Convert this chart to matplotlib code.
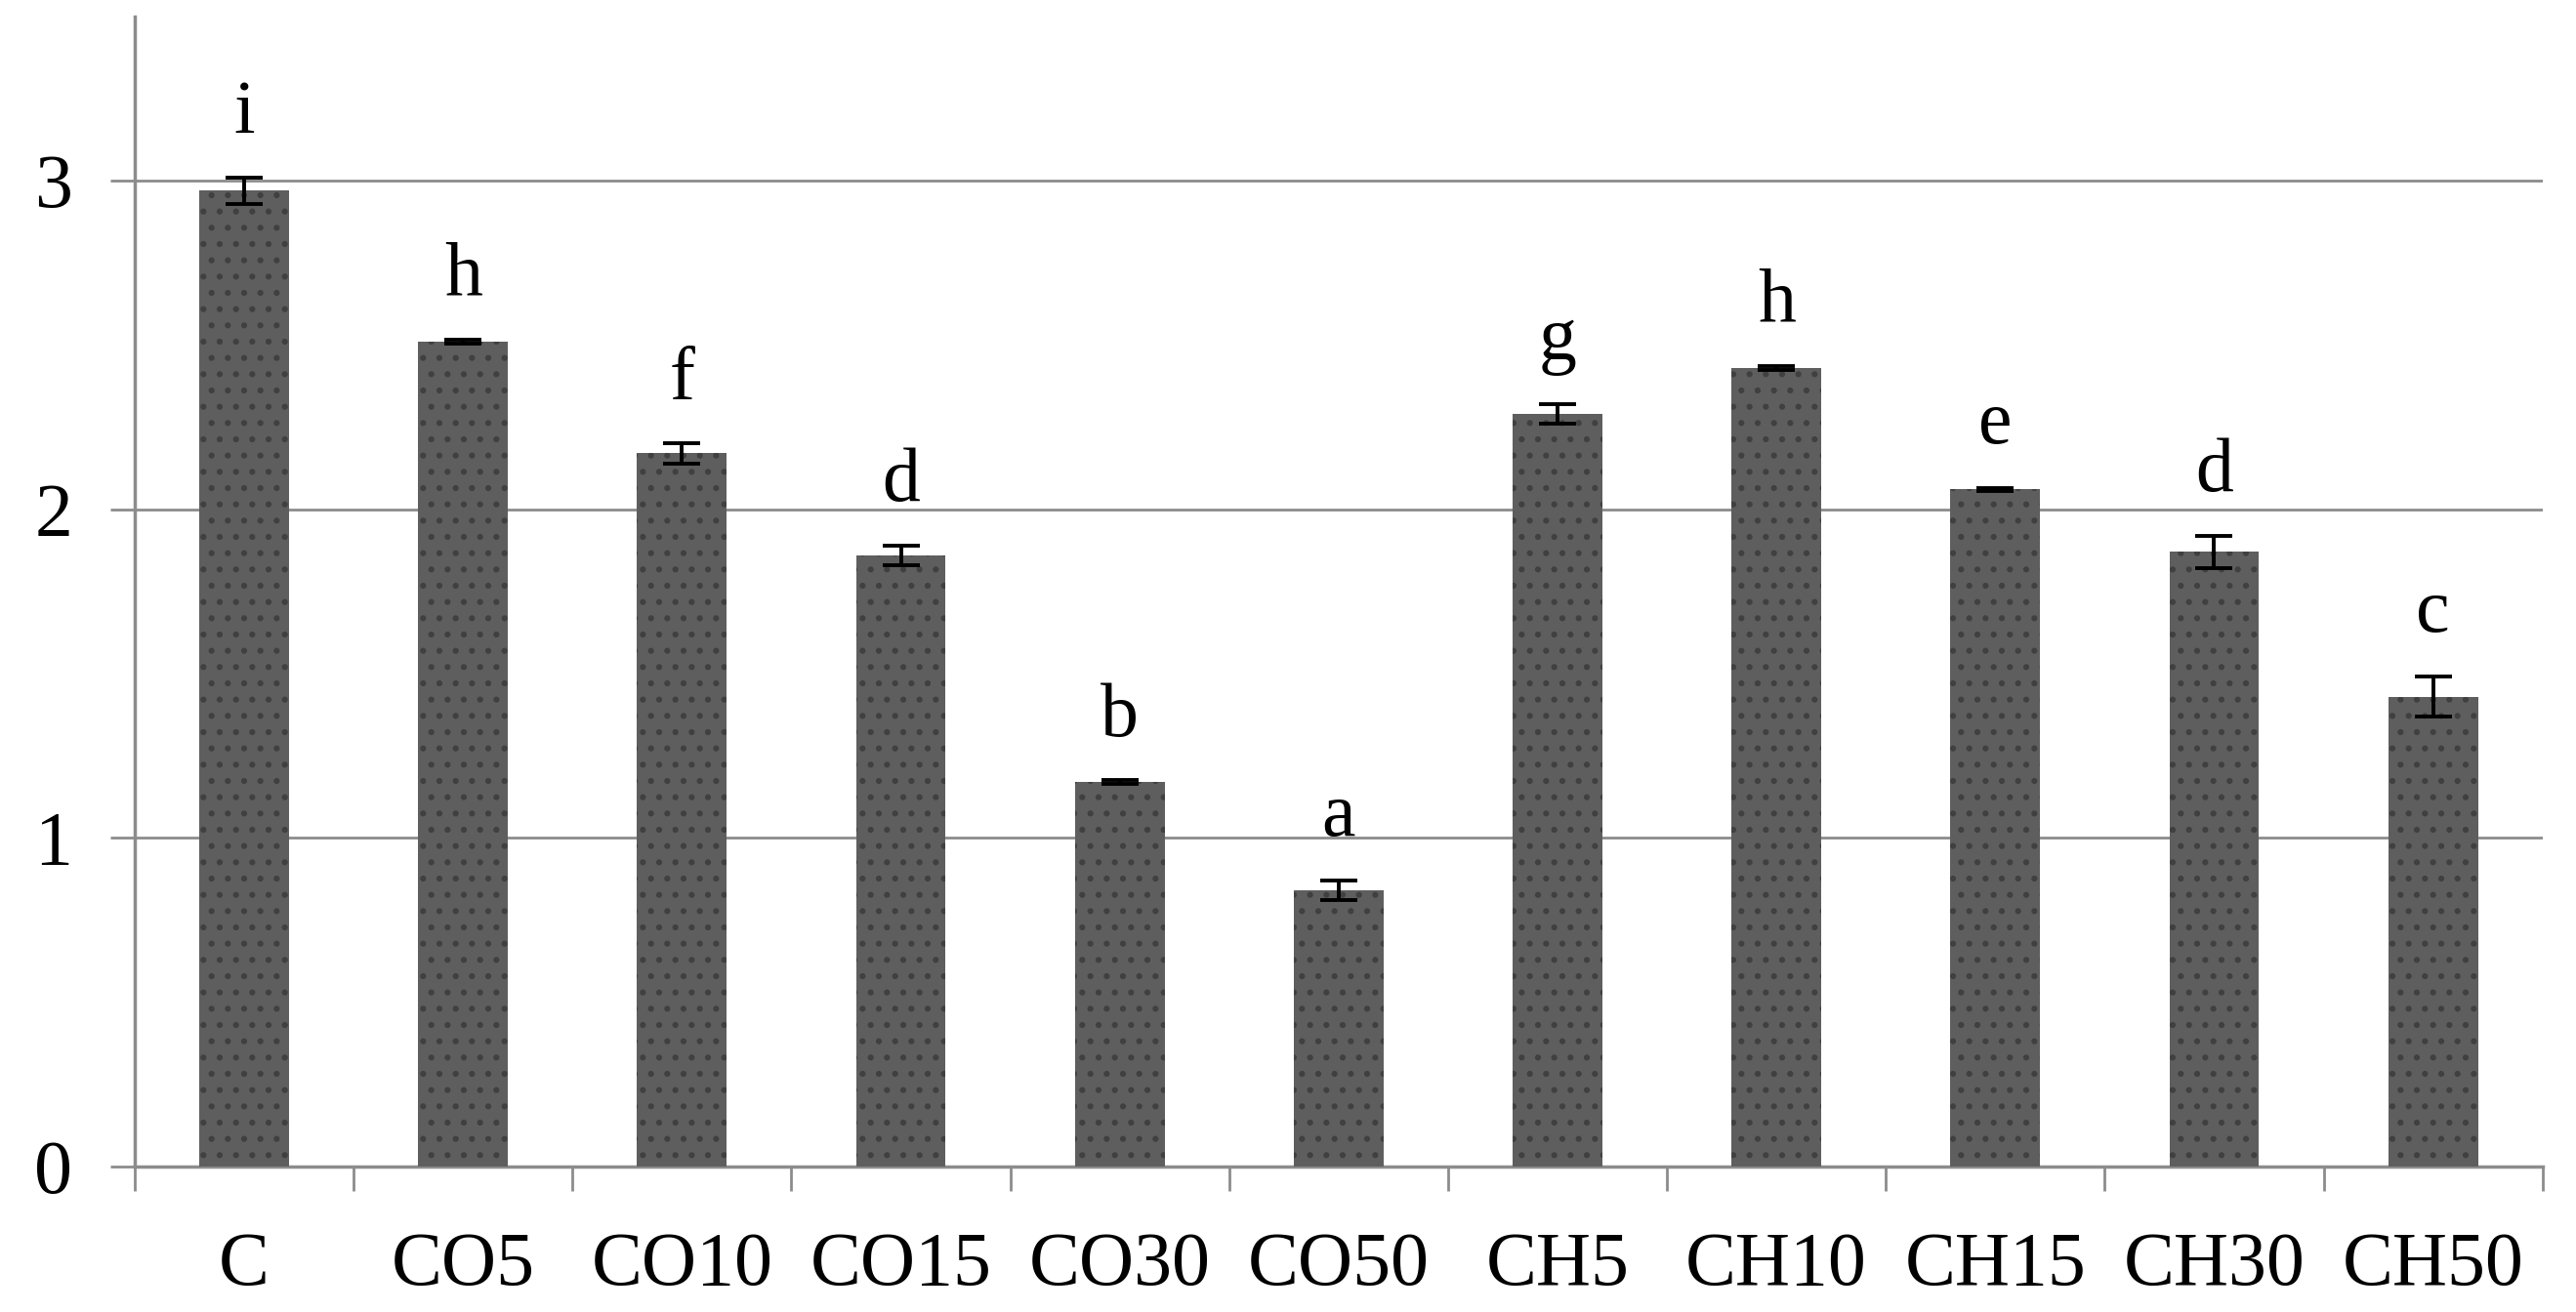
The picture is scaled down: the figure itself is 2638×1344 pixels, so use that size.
import matplotlib.pyplot as plt
from matplotlib.ticker import FixedLocator

# data
groups = ['C', 'CO5', 'CO10', 'CO15', 'CO30', 'CO50', 'CH5', 'CH10', 'CH15', 'CH30', 'CH50']
means = [2.97, 2.51, 2.17, 1.86, 1.17, 0.84, 2.29, 2.43, 2.06, 1.87, 1.43]
errors = [0.04, 0.005, 0.03, 0.03, 0.005, 0.03, 0.03, 0.005, 0.005, 0.05, 0.06]
letters = ['i', 'h', 'f', 'd', 'b', 'a', 'g', 'h', 'e', 'd', 'c']

plt.rcParams['font.family'] = ['Liberation Serif', 'DejaVu Serif']
plt.rcParams['hatch.color'] = '#404040'
plt.rcParams['hatch.linewidth'] = 2

fig = plt.figure(figsize=(26.38, 13.44), dpi=100)
ax = fig.add_axes([0.0523, 0.111, 0.9347, 0.8765])

x = range(len(groups))
ax.bar(x, means, width=0.41, color='#5e5e5e', hatch='.', linewidth=0, zorder=3)
ax.errorbar(x, means, yerr=errors, fmt='none', ecolor='black', elinewidth=2.8,
            capsize=14, capthick=2.8, zorder=4)

for i, (m, e, s) in enumerate(zip(means, errors, letters)):
    ax.annotate(s, (i, m + e), xytext=(0, 33), textcoords='offset points',
                ha='center', va='baseline', fontsize=56)

ax.set_xlim(-0.5, len(groups) - 0.5)
ax.set_ylim(0, 3.5)
ax.set_yticks([0, 1, 2, 3])
ax.tick_params(axis='y', labelsize=56, length=18, width=2, color='#8c8c8c', pad=28)

ax.xaxis.set_major_locator(FixedLocator([i - 0.5 for i in range(len(groups) + 1)]))
ax.xaxis.set_major_formatter(plt.NullFormatter())
ax.xaxis.set_minor_locator(FixedLocator(list(x)))
ax.set_xticklabels(groups, minor=True)
ax.tick_params(axis='x', which='major', length=18, width=2, color='#8c8c8c')
ax.tick_params(axis='x', which='minor', length=0, labelsize=56, pad=48)

ax.grid(axis='y', color='#8c8c8c', linewidth=2, zorder=0)
for side in ['top', 'right']:
    ax.spines[side].set_visible(False)
for side in ['left', 'bottom']:
    ax.spines[side].set_color('#8c8c8c')
    ax.spines[side].set_linewidth(2.5)

fig.savefig('out.png', dpi=100, facecolor='white')
